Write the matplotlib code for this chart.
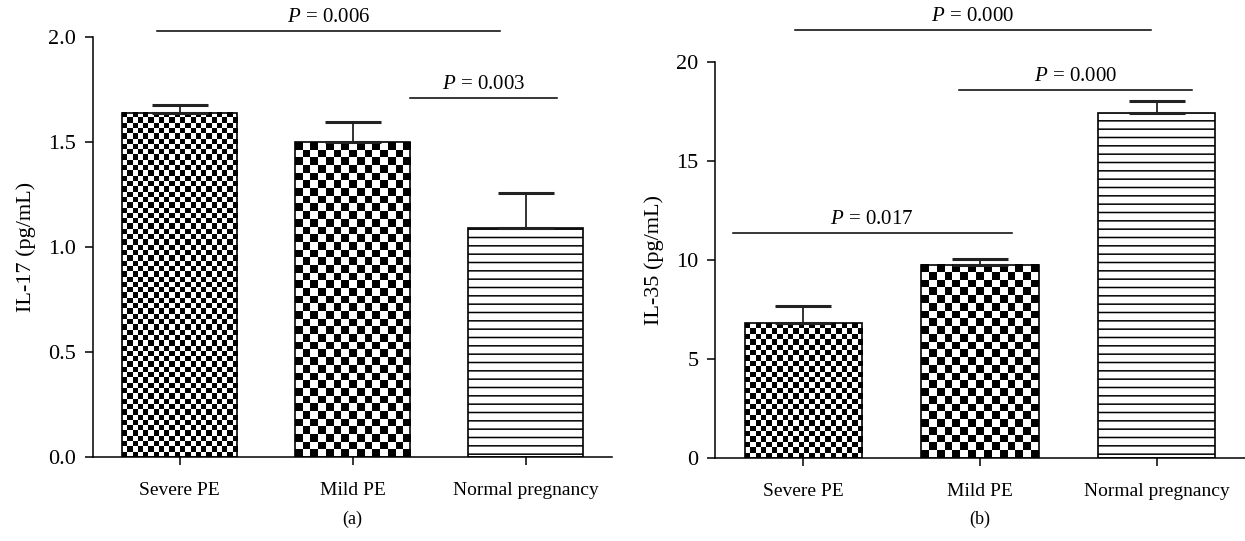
import numpy as np
import matplotlib
matplotlib.use("Agg")
import matplotlib.pyplot as plt

plt.rcParams['font.family'] = 'Liberation Serif'
plt.rcParams['mathtext.fontset'] = 'custom'
plt.rcParams['mathtext.rm'] = 'Liberation Serif'
plt.rcParams['mathtext.it'] = 'Liberation Serif:italic'
plt.rcParams['hatch.linewidth'] = 1.1

groups = ['Severe PE', 'Mild PE', 'Normal pregnancy']

il17_mean = [1.64, 1.50, 1.09]
il17_err = [0.035, 0.095, 0.165]
il35_mean = [6.8, 9.75, 17.4]
il35_err = [0.9, 0.3, 0.65]

# significance brackets: (left x, right x, y, label)
il17_sig = [(-0.13, 1.85, 2.03, '$P$ = 0.006'), (1.33, 2.18, 1.71, '$P$ = 0.003')]
il35_sig = [(-0.05, 1.97, 21.6, '$P$ = 0.000'), (0.88, 2.2, 18.6, '$P$ = 0.000'),
            (-0.4, 1.18, 11.36, '$P$ = 0.017')]


def checker(ax, bar, cell_px):
    # checkerboard fill for one bar, cells roughly square in pixels
    x0, y0 = bar.get_x(), bar.get_y()
    x1, y1 = x0 + bar.get_width(), y0 + bar.get_height()
    (px0, py0), (px1, py1) = ax.transData.transform([(x0, y0), (x1, y1)])
    nx = max(1, int(round((px1 - px0) / cell_px)))
    ny = max(1, int(round((py1 - py0) / cell_px)))
    img = (np.indices((ny, nx)).sum(axis=0) % 2).astype(float)
    ax.imshow(img, cmap='gray', extent=(x0, x1, y0, y1), origin='lower',
              interpolation='nearest', aspect='auto', zorder=2)


def panel(ax, means, errs, ylim, yticks, yfmt, ylabel, sigs, sublabel, suby):
    x = np.arange(len(groups))
    ax.set_xlim(-0.5, 2.5)
    ax.set_ylim(*ylim)
    bars = ax.bar(x, means, width=0.665, facecolor='white', edgecolor='black',
                  linewidth=1.2, zorder=3, fill=False)
    checker(ax, bars[0], 5.3)
    checker(ax, bars[1], 7.6)
    bars[2].set_hatch('--')
    ax.errorbar(x, means, yerr=[np.zeros(len(errs)), errs], fmt='none',
                ecolor='#222222', elinewidth=1.3, capsize=20, capthick=2.2, zorder=4)
    for s in ['top', 'right']:
        ax.spines[s].set_visible(False)
    for s in ['left', 'bottom']:
        ax.spines[s].set_linewidth(1.1)
    ax.set_yticks(yticks)
    ax.set_yticklabels([yfmt % t for t in yticks], fontsize=16)
    ax.set_xticks(x)
    ax.set_xticklabels(groups, fontsize=14)
    ax.tick_params(axis='both', direction='out', length=6, width=1.1)
    ax.tick_params(axis='y', pad=6)
    ax.tick_params(axis='x', pad=12)
    ax.set_ylabel(ylabel, fontsize=16, labelpad=9)
    for xa, xb, y, lab in sigs:
        ax.plot([xa, xb], [y, y], color='black', lw=1.1, clip_on=False)
        ax.text((xa + xb) / 2, y + (ylim[1] - ylim[0]) * 0.01, lab, ha='center',
                va='bottom', fontsize=15)
    ax.text(0.5, suby, sublabel, transform=ax.transAxes, ha='center', va='center',
            fontsize=13)


fig = plt.figure(figsize=(12.45, 5.41), dpi=100)
ax1 = fig.add_axes([0.0747, 0.1553, 0.417, 0.7763])
ax2 = fig.add_axes([0.5743, 0.1534, 0.4257, 0.732])

panel(ax1, il17_mean, il17_err, (0, 2.0), [0, 0.5, 1.0, 1.5, 2.0], '%.1f',
      'IL-17 (pg/mL)', il17_sig, '(a)', -0.148)
panel(ax2, il35_mean, il35_err, (0, 20), [0, 5, 10, 15, 20], '%d',
      'IL-35 (pg/mL)', il35_sig, '(b)', -0.155)

fig.savefig('out.png', dpi=100)
